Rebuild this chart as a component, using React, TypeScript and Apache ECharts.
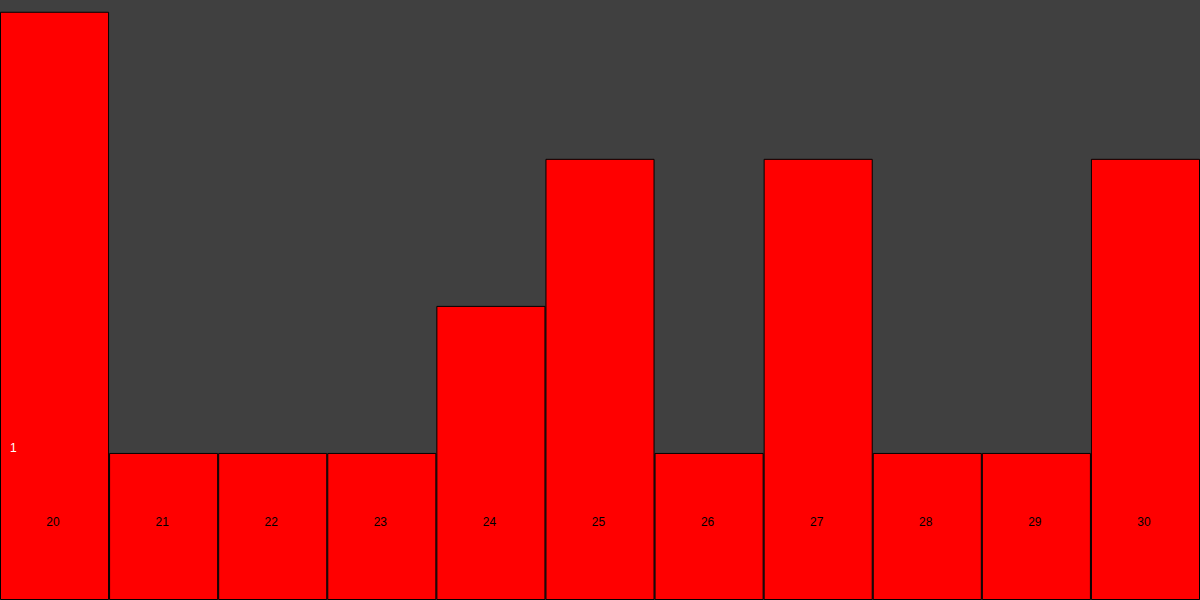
import React, { useEffect, useRef } from "react";
import * as echarts from "echarts";

const categories = ["20", "21", "22", "23", "24", "25", "26", "27", "28", "29", "30"];
const values = [4, 1, 1, 1, 2, 3, 1, 3, 1, 1, 3];
const yTickShown = [1];

export default function App() {
  const ref = useRef<HTMLDivElement>(null);
  useEffect(() => {
    const chart = echarts.init(ref.current!, null, { renderer: "svg" });
    chart.setOption({
      animation: false,
      backgroundColor: "#404040",
      grid: { left: 0, right: 0, top: 0, bottom: 0, containLabel: false },
      xAxis: {
        type: "category",
        data: categories,
        z: 10,
        axisLine: { show: false },
        axisTick: { show: false },
        axisLabel: { inside: true, margin: 72, color: "#000", fontSize: 12, padding: [0, 3, 0, 0] },
      },
      yAxis: {
        type: "value",
        min: 0,
        max: 4.08,
        interval: 1,
        z: 10,
        splitLine: { show: false },
        axisLine: { show: false },
        axisTick: { show: false },
        axisLabel: {
          inside: true,
          margin: 10,
          color: "#fff",
          fontSize: 12,
          lineHeight: 9,
          verticalAlign: "bottom",
          showMaxLabel: false,
          formatter: (v: number) => (yTickShown.includes(v) ? String(v) : ""),
        },
      },
      series: [
        {
          type: "bar",
          data: values,
          barCategoryGap: 0,
          itemStyle: { color: "#ff0000", borderColor: "#000", borderWidth: 1 },
        },
      ],
    });
    return () => chart.dispose();
  }, []);
  return <div ref={ref} style={{ width: 1200, height: 600, position: "absolute", left: 0, top: 0 }} />;
}
